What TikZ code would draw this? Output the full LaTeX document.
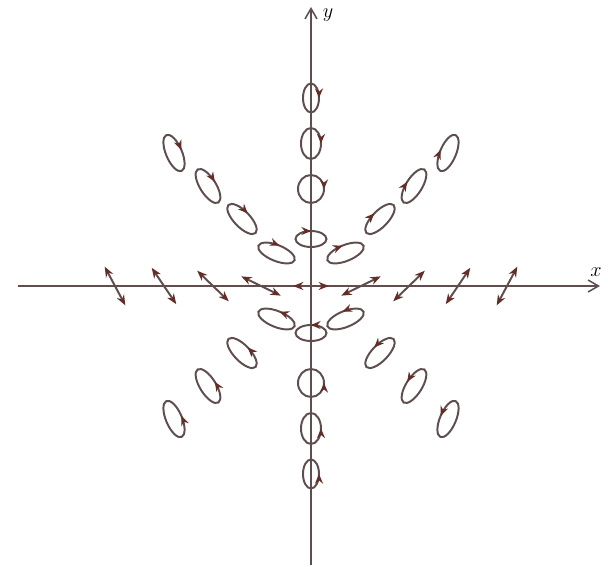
\documentclass[tikz,border=0pt]{standalone}
\usepackage{amsmath}
\usepackage{tikz}
\usetikzlibrary{arrows.meta, decorations.markings}
\definecolor{inkc}{RGB}{95,78,78}
\definecolor{tipc}{RGB}{100,45,40}
\tikzset{axisline/.style={draw=inkc, line width=1.1pt, -{Straight Barb[length=2.6mm,width=3mm]}},
ring/.style={draw=inkc, line width=1.4pt},
cwring/.style={ring, postaction={decorate, decoration={markings, mark=at position 0.25 with {\arrowreversed{Stealth[length=2.4mm,width=2mm,color=tipc]}}}}},
ccwring/.style={ring, postaction={decorate, decoration={markings, mark=at position 0.25 with {\arrow{Stealth[length=2.4mm,width=2mm,color=tipc]}}}}},
linpol/.style={draw=inkc, line width=1.4pt, {Stealth[length=2.6mm,width=2mm,color=tipc]}-{Stealth[length=2.6mm,width=2mm,color=tipc]}},
axislabel/.style={inner sep=0pt, font=\Large}}

\begin{document}
\begin{tikzpicture}[x=0.25mm, y=0.25mm]
  \useasboundingbox (-311,-281) rectangle (297,286);
  % axes
  \coordinate (xstart) at (-293,0);
  \coordinate (xend) at (289,0);
  \coordinate (ystart) at (0,-279);
  \coordinate (yend) at (0,279);
  \draw[axisline] (xstart) -- (xend);
  \draw[axisline] (ystart) -- (yend);
  \node[axislabel] (xlab) at (285,14) {$x$};
  \node[axislabel] (ylab) at (17,271) {$y$};
  % linear polarization along the x axis
  \draw[linpol] (-18,0) -- (18,0);
  \foreach \px/\ang in {50/26, 98/44, 147/56, 196/62} {
    \draw[linpol, shift={(-\px,0)}, rotate=-\ang] (-22,0) -- (22,0);
    \draw[linpol, shift={(\px,0)}, rotate=\ang] (-22,0) -- (22,0);
  }
  % ellipses along the y axis
  \foreach \dy/\rt/\ra/\rb in {47/0/15.5/8, 97/-90/14/13, 142.5/-90/15.5/10, 188/-90/14.5/8} {
    \draw[cwring, shift={(0,\dy)}, rotate=\rt] (0,0) ellipse [x radius=\ra, y radius=\rb];
    \draw[ccwring, shift={(0,-\dy)}, rotate=\rt] (0,0) ellipse [x radius=\ra, y radius=\rb];
  }
  % ellipses along the diagonals
  \foreach \dx/\dy/\rt in {34.5/33/22, 69/67/46, 103/100/58, 137/133/67} {
    \draw[cwring, shift={(-\dx,\dy)}, rotate=-\rt] (0,0) ellipse [x radius=19.5, y radius=8];
    \draw[cwring, shift={(\dx,\dy)}, rotate=\rt] (0,0) ellipse [x radius=19.5, y radius=8];
    \draw[ccwring, shift={(-\dx,-\dy)}, rotate=-\rt] (0,0) ellipse [x radius=19.5, y radius=8];
    \draw[ccwring, shift={(\dx,-\dy)}, rotate=\rt] (0,0) ellipse [x radius=19.5, y radius=8];
  }
\end{tikzpicture}
\end{document}
